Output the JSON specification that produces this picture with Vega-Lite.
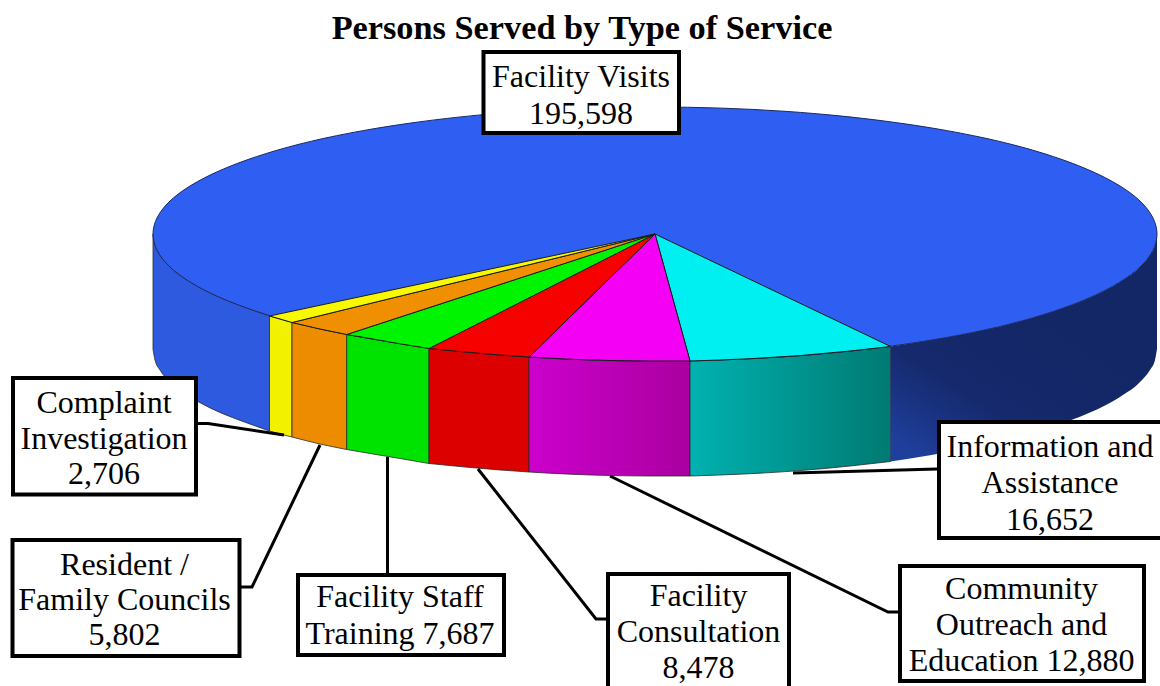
{
"$schema":"https://vega.github.io/schema/vega-lite/v6.json",
"width":1160,"height":686,"padding":0,"autosize":{"type":"none"},
"background":"white",
"title":{"text":"Persons Served by Type of Service","font":"Liberation Serif","fontSize":34.3,"fontWeight":"bold","color":"#000000","anchor":"middle","offset":-46,"dx":2},
"config":{"view":{"stroke":null}},
"datasets":{
"sides":[
{"slice":"Facility Visits L","x":153,"y":234,"y2":349},{"slice":"Facility Visits L","x":155,"y":245,"y2":360},{"slice":"Facility Visits L","x":160,"y":255,"y2":370},{"slice":"Facility Visits L","x":170,"y":267,"y2":382},{"slice":"Facility Visits L","x":185,"y":278.6,"y2":393.6},{"slice":"Facility Visits L","x":200,"y":287.7,"y2":402.7},{"slice":"Facility Visits L","x":220,"y":297.5,"y2":412.5},{"slice":"Facility Visits L","x":245,"y":307.2,"y2":422.2},{"slice":"Facility Visits L","x":269.5,"y":316,"y2":431},
{"slice":"Complaint Investigation","x":269.5,"y":316,"y2":431},{"slice":"Complaint Investigation","x":280,"y":319,"y2":434},{"slice":"Complaint Investigation","x":292,"y":322.5,"y2":437},
{"slice":"Resident / Family Councils","x":292,"y":322.5,"y2":437},{"slice":"Resident / Family Councils","x":320,"y":329,"y2":444},{"slice":"Resident / Family Councils","x":346.7,"y":334.5,"y2":449.5},
{"slice":"Facility Staff Training","x":346.7,"y":334.5,"y2":449.5},{"slice":"Facility Staff Training","x":370,"y":338.5,"y2":453.5},{"slice":"Facility Staff Training","x":400,"y":343.8,"y2":458.5},{"slice":"Facility Staff Training","x":429,"y":348.5,"y2":463.5},
{"slice":"Facility Consultation","x":429,"y":348.5,"y2":463.5},{"slice":"Facility Consultation","x":465,"y":352,"y2":467},{"slice":"Facility Consultation","x":500,"y":355,"y2":470},{"slice":"Facility Consultation","x":529,"y":357,"y2":472},
{"slice":"Community Outreach and Education","x":529,"y":357,"y2":472},{"slice":"Community Outreach and Education","x":570,"y":359.2,"y2":474.2},{"slice":"Community Outreach and Education","x":610,"y":360.5,"y2":475.5},{"slice":"Community Outreach and Education","x":650,"y":361,"y2":476},{"slice":"Community Outreach and Education","x":690,"y":361,"y2":476},
{"slice":"Information and Assistance","x":690,"y":361,"y2":476},{"slice":"Information and Assistance","x":720,"y":360,"y2":475},{"slice":"Information and Assistance","x":750,"y":358.7,"y2":473.7},{"slice":"Information and Assistance","x":800,"y":355.6,"y2":470.6},{"slice":"Information and Assistance","x":850,"y":351,"y2":466},{"slice":"Information and Assistance","x":890.6,"y":346.5,"y2":461.5},
{"slice":"Facility Visits R","x":890.6,"y":346.5,"y2":461.5},{"slice":"Facility Visits R","x":930,"y":340.2,"y2":455.2},{"slice":"Facility Visits R","x":970,"y":332.9,"y2":447.9},{"slice":"Facility Visits R","x":1010,"y":324,"y2":439},{"slice":"Facility Visits R","x":1050,"y":312.4,"y2":427.4},{"slice":"Facility Visits R","x":1090,"y":297.5,"y2":412.5},{"slice":"Facility Visits R","x":1120,"y":281.9,"y2":396.9},{"slice":"Facility Visits R","x":1140,"y":267,"y2":382},{"slice":"Facility Visits R","x":1150,"y":255,"y2":370},{"slice":"Facility Visits R","x":1155,"y":245,"y2":360},{"slice":"Facility Visits R","x":1157,"y":234,"y2":349}
],
"ellipse":[
{"o":1,"x":1157,"y":234},{"o":2,"x":1140,"y":267},{"o":3,"x":1090,"y":297.5},{"o":4,"x":1010,"y":324},{"o":5,"x":906,"y":344},{"o":6,"x":785,"y":356.7},{"o":7,"x":655,"y":361},{"o":8,"x":525,"y":356.7},{"o":9,"x":404,"y":344},{"o":10,"x":300,"y":324},{"o":11,"x":220,"y":297.5},{"o":12,"x":170,"y":267},{"o":13,"x":153,"y":234},{"o":14,"x":170,"y":201},{"o":15,"x":220,"y":170.5},{"o":16,"x":300,"y":144},{"o":17,"x":404,"y":124},{"o":18,"x":525,"y":111.3},{"o":19,"x":655,"y":107},{"o":20,"x":785,"y":111.3},{"o":21,"x":906,"y":124},{"o":22,"x":1010,"y":144},{"o":23,"x":1090,"y":170.5},{"o":24,"x":1140,"y":201}
],
"wedges":[
{"slice":"Information and Assistance","o":1,"x":655,"y":234},{"slice":"Information and Assistance","o":2,"x":890.6,"y":346.5},{"slice":"Information and Assistance","o":3,"x":850,"y":351},{"slice":"Information and Assistance","o":4,"x":800,"y":355.6},{"slice":"Information and Assistance","o":5,"x":750,"y":358.7},{"slice":"Information and Assistance","o":6,"x":720,"y":360},{"slice":"Information and Assistance","o":7,"x":690,"y":361},{"slice":"Information and Assistance","o":8,"x":655,"y":234},
{"slice":"Community Outreach and Education","o":1,"x":655,"y":234},{"slice":"Community Outreach and Education","o":2,"x":690,"y":361},{"slice":"Community Outreach and Education","o":3,"x":650,"y":361},{"slice":"Community Outreach and Education","o":4,"x":610,"y":360.5},{"slice":"Community Outreach and Education","o":5,"x":570,"y":359.2},{"slice":"Community Outreach and Education","o":6,"x":529,"y":357},{"slice":"Community Outreach and Education","o":7,"x":655,"y":234},
{"slice":"Facility Consultation","o":1,"x":655,"y":234},{"slice":"Facility Consultation","o":2,"x":529,"y":357},{"slice":"Facility Consultation","o":3,"x":500,"y":355},{"slice":"Facility Consultation","o":4,"x":465,"y":352},{"slice":"Facility Consultation","o":5,"x":429,"y":348.5},{"slice":"Facility Consultation","o":6,"x":655,"y":234},
{"slice":"Facility Staff Training","o":1,"x":655,"y":234},{"slice":"Facility Staff Training","o":2,"x":429,"y":348.5},{"slice":"Facility Staff Training","o":3,"x":400,"y":343.8},{"slice":"Facility Staff Training","o":4,"x":370,"y":338.5},{"slice":"Facility Staff Training","o":5,"x":346.7,"y":334.5},{"slice":"Facility Staff Training","o":6,"x":655,"y":234},
{"slice":"Resident / Family Councils","o":1,"x":655,"y":234},{"slice":"Resident / Family Councils","o":2,"x":346.7,"y":334.5},{"slice":"Resident / Family Councils","o":3,"x":320,"y":329},{"slice":"Resident / Family Councils","o":4,"x":292,"y":322.5},{"slice":"Resident / Family Councils","o":5,"x":655,"y":234},
{"slice":"Complaint Investigation","o":1,"x":655,"y":234},{"slice":"Complaint Investigation","o":2,"x":292,"y":322.5},{"slice":"Complaint Investigation","o":3,"x":280,"y":319},{"slice":"Complaint Investigation","o":4,"x":269.5,"y":316},{"slice":"Complaint Investigation","o":5,"x":655,"y":234}
],
"leaders":[
{"slice":"Complaint Investigation","o":1,"x":197,"y":423.5},{"slice":"Complaint Investigation","o":2,"x":208,"y":423.5},{"slice":"Complaint Investigation","o":3,"x":284,"y":435},
{"slice":"Resident / Family Councils","o":1,"x":241,"y":587},{"slice":"Resident / Family Councils","o":2,"x":252,"y":587},{"slice":"Resident / Family Councils","o":3,"x":320,"y":445},
{"slice":"Facility Staff Training","o":1,"x":387.5,"y":573},{"slice":"Facility Staff Training","o":2,"x":387.5,"y":457},
{"slice":"Facility Consultation","o":1,"x":606,"y":619},{"slice":"Facility Consultation","o":2,"x":596,"y":619},{"slice":"Facility Consultation","o":3,"x":478,"y":469},
{"slice":"Community Outreach and Education","o":1,"x":898,"y":612},{"slice":"Community Outreach and Education","o":2,"x":888,"y":612},{"slice":"Community Outreach and Education","o":3,"x":610,"y":476},
{"slice":"Information and Assistance","o":1,"x":937,"y":469},{"slice":"Information and Assistance","o":2,"x":793,"y":473}
],
"boxes":[
{"slice":"Facility Visits","value":195598,"x":483.5,"x2":679,"y":52,"y2":133},
{"slice":"Information and Assistance","value":16652,"x":939,"x2":1165,"y":422,"y2":538},
{"slice":"Community Outreach and Education","value":12880,"x":900,"x2":1144,"y":566,"y2":681},
{"slice":"Facility Consultation","value":8478,"x":608,"x2":789,"y":574,"y2":692},
{"slice":"Facility Staff Training","value":7687,"x":298,"x2":504,"y":575,"y2":655},
{"slice":"Resident / Family Councils","value":5802,"x":12.5,"x2":239.5,"y":540,"y2":656},
{"slice":"Complaint Investigation","value":2706,"x":13,"x2":196,"y":378,"y2":494.5}
],
"labels":[
{"line":"Facility Visits","x":581,"y":87},{"line":"195,598","x":581,"y":124},
{"line":"Information and","x":1050,"y":457},{"line":"Assistance","x":1050,"y":493},{"line":"16,652","x":1050,"y":530},
{"line":"Community","x":1021.5,"y":599},{"line":"Outreach and","x":1021.5,"y":635},{"line":"Education 12,880","x":1021.5,"y":671},
{"line":"Facility","x":698.5,"y":606},{"line":"Consultation","x":698.5,"y":642},{"line":"8,478","x":698.5,"y":678},
{"line":"Facility Staff","x":400,"y":607},{"line":"Training 7,687","x":400,"y":644},
{"line":"Resident /","x":124.5,"y":575},{"line":"Family Councils","x":124.5,"y":610},{"line":"5,802","x":124.5,"y":645},
{"line":"Complaint","x":104,"y":413},{"line":"Investigation","x":104,"y":449},{"line":"2,706","x":104,"y":484}
]
},
"encoding":{
"x":{"field":"x","type":"quantitative","scale":{"domain":[0,1160],"nice":false,"zero":false},"axis":null},
"y":{"field":"y","type":"quantitative","scale":{"domain":[686,0],"nice":false,"zero":false},"axis":null}
},
"layer":[
{"data":{"name":"sides"},"transform":[{"filter":"indexof(['Facility Visits L','Complaint Investigation','Resident / Family Councils','Facility Staff Training','Facility Consultation'],datum.slice)>=0"}],
 "mark":{"type":"area","interpolate":"monotone","stroke":"#2a2a2a","strokeWidth":0.8},
 "encoding":{"y2":{"field":"y2"},"detail":{"field":"slice"},"color":{"field":"slice","type":"nominal","legend":null,"scale":{"domain":["Facility Visits L","Complaint Investigation","Resident / Family Councils","Facility Staff Training","Facility Consultation"],"range":["#2d5ade","#f2f200","#ee8c00","#00e200","#dc0000"]}}}},
{"data":{"name":"sides"},"transform":[{"filter":"datum.slice==='Community Outreach and Education'"}],
 "mark":{"type":"area","interpolate":"monotone","stroke":"#2a2a2a","strokeWidth":0.8,"fill":{"gradient":"linear","x1":0,"y1":0,"x2":1,"y2":0,"stops":[{"offset":0,"color":"#cc00cc"},{"offset":1,"color":"#aa00a0"}]}},
 "encoding":{"y2":{"field":"y2"}}},
{"data":{"name":"sides"},"transform":[{"filter":"datum.slice==='Information and Assistance'"}],
 "mark":{"type":"area","interpolate":"monotone","stroke":"#2a2a2a","strokeWidth":0.8,"fill":{"gradient":"linear","x1":0,"y1":0,"x2":1,"y2":0,"stops":[{"offset":0,"color":"#00b2b0"},{"offset":1,"color":"#007a72"}]}},
 "encoding":{"y2":{"field":"y2"}}},
{"data":{"name":"sides"},"transform":[{"filter":"datum.slice==='Facility Visits R'"}],
 "mark":{"type":"area","interpolate":"monotone","fill":{"gradient":"linear","x1":0,"y1":0.9,"x2":0.45,"y2":0.3,"stops":[{"offset":0,"color":"#1f3f9c"},{"offset":0.45,"color":"#15296c"},{"offset":1,"color":"#132766"}]}},
 "encoding":{"y2":{"field":"y2"}}},
{"data":{"name":"ellipse"},"mark":{"type":"line","interpolate":"cardinal-closed","fill":"#2f5ff2","stroke":"#1a2a60","strokeWidth":1},
 "encoding":{"order":{"field":"o","type":"quantitative"}}},
{"data":{"name":"wedges"},"transform":[{"filter":"datum.slice==='Information and Assistance'"}],"mark":{"type":"line","strokeWidth":1,"stroke":"#1c1c1c","fill":"#00f0f2"},
 "encoding":{"order":{"field":"o","type":"quantitative"}}},
{"data":{"name":"wedges"},"transform":[{"filter":"datum.slice==='Community Outreach and Education'"}],"mark":{"type":"line","strokeWidth":1,"stroke":"#1c1c1c","fill":"#f400f4"},
 "encoding":{"order":{"field":"o","type":"quantitative"}}},
{"data":{"name":"wedges"},"transform":[{"filter":"datum.slice==='Facility Consultation'"}],"mark":{"type":"line","strokeWidth":1,"stroke":"#1c1c1c","fill":"#f60000"},
 "encoding":{"order":{"field":"o","type":"quantitative"}}},
{"data":{"name":"wedges"},"transform":[{"filter":"datum.slice==='Facility Staff Training'"}],"mark":{"type":"line","strokeWidth":1,"stroke":"#1c1c1c","fill":"#00f400"},
 "encoding":{"order":{"field":"o","type":"quantitative"}}},
{"data":{"name":"wedges"},"transform":[{"filter":"datum.slice==='Resident / Family Councils'"}],"mark":{"type":"line","strokeWidth":1,"stroke":"#1c1c1c","fill":"#f09000"},
 "encoding":{"order":{"field":"o","type":"quantitative"}}},
{"data":{"name":"wedges"},"transform":[{"filter":"datum.slice==='Complaint Investigation'"}],"mark":{"type":"line","strokeWidth":1,"stroke":"#1c1c1c","fill":"#f8f800"},
 "encoding":{"order":{"field":"o","type":"quantitative"}}},
{"data":{"name":"leaders"},"mark":{"type":"line","stroke":"#000000","strokeWidth":3},
 "encoding":{"order":{"field":"o","type":"quantitative"},"detail":{"field":"slice"}}},
{"data":{"name":"boxes"},"mark":{"type":"rect","fill":"#ffffff","stroke":"#000000","strokeWidth":4,"clip":false},
 "encoding":{"x2":{"field":"x2"},"y2":{"field":"y2"}}},
{"data":{"name":"labels"},"mark":{"type":"text","font":"Liberation Serif","fontSize":32,"baseline":"alphabetic","align":"center","color":"#000000"},
 "encoding":{"text":{"field":"line"}}}
]
}
